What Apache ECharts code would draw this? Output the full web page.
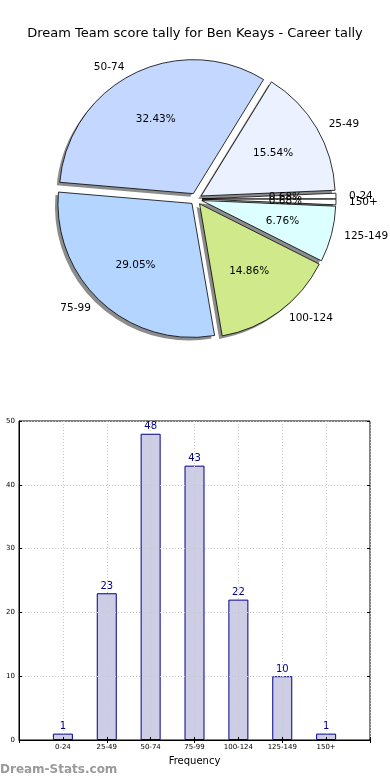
<!DOCTYPE html>
<html>
<head>
<meta charset="utf-8">
<script src="https://cdn.jsdelivr.net/npm/echarts@6/dist/echarts.min.js"></script>
<style>
html,body{margin:0;padding:0;background:#fff;}
#c{width:390px;height:780px;}
</style>
</head>
<body>
<div id="c"></div>
<script>
const categories = ['0-24', '25-49', '50-74', '75-99', '100-124', '125-149', '150+'];
const counts = [1, 23, 48, 43, 22, 10, 1];
const sliceColors = ['#ffffff', '#ebf1ff', '#c4d8ff', '#b4d5ff', '#d0ea8b', '#dcffff', '#ffffff'];
const yTicks = [0, 10, 20, 30, 40, 50];

const FONT = 'DejaVu Sans';
const total = counts.reduce((a, b) => a + b, 0);
const R = 134;
const CENTER = [196, 199];
const SHADOW_CENTER = [CENTER[0] - 3, CENTER[1] + 3];

const pieData = categories.map((c, i) => ({
  name: c, value: counts[i], selected: true,
  itemStyle: { color: sliceColors[i] }
}));
const plainData = categories.map((c, i) => ({ name: c, value: counts[i], selected: true }));

const xCats = [''].concat(categories, ['']);
const barVals = ['-'].concat(counts, ['-']);

const pieCommon = {
  type: 'pie', startAngle: 0, clockwise: false,
  selectedMode: 'multiple', selectedOffset: 6,
  avoidLabelOverlap: false, silent: true,
  labelLayout: { hideOverlap: false },
  emphasis: { disabled: true }
};

const chart = echarts.init(document.getElementById('c'), null, { renderer: 'canvas' });
chart.setOption({
  animation: false,
  backgroundColor: '#ffffff',
  textStyle: { fontFamily: FONT },
  title: [{
    text: 'Dream Team score tally for Ben Keays - Career tally',
    left: 'center', top: 22,
    textStyle: { fontFamily: FONT, fontSize: 13, fontWeight: 'normal', color: '#000' }
  }],
  graphic: [{
    type: 'text', left: 0, top: 764,
    style: { text: 'Dream-Stats.com', fill: '#9a9a9a', font: 'bold 12px "DejaVu Sans"' }
  }],
  grid: { left: 19, right: 20, top: 421, bottom: 40, show: true, borderColor: '#000', borderWidth: 1, containLabel: false },
  xAxis: [{
    type: 'category', data: xCats, boundaryGap: false, z: 3,
    name: 'Frequency', nameLocation: 'middle', nameGap: 16,
    nameTextStyle: { fontFamily: FONT, fontSize: 10, color: '#000' },
    axisLine: { show: true, lineStyle: { color: '#000' } },
    axisTick: { show: true, inside: true, length: 3, lineStyle: { color: '#000' } },
    axisLabel: { interval: 0, fontFamily: FONT, fontSize: 7, color: '#000', margin: 4 },
    splitLine: { show: true, lineStyle: { color: '#c8c8c8', type: [1, 2], width: 1 } }
  }, {
    type: 'category', data: xCats, boundaryGap: false, position: 'top', z: 3,
    axisLine: { show: false },
    axisTick: { show: true, inside: true, length: 3, lineStyle: { color: '#000' } },
    axisLabel: { show: false }, splitLine: { show: false }
  }],
  yAxis: [{
    type: 'value', min: yTicks[0], max: yTicks[yTicks.length - 1], interval: 10, z: 3,
    axisLine: { show: true, lineStyle: { color: '#000' } },
    axisTick: { show: true, inside: true, length: 3, lineStyle: { color: '#000' } },
    axisLabel: { fontFamily: FONT, fontSize: 7, color: '#000', margin: 4 },
    splitLine: { show: true, lineStyle: { color: '#c8c8c8', type: [1, 2], width: 1 } }
  }, {
    type: 'value', min: yTicks[0], max: yTicks[yTicks.length - 1], interval: 10, position: 'right', z: 3,
    axisLine: { show: false },
    axisTick: { show: true, inside: true, length: 3, lineStyle: { color: '#000' } },
    axisLabel: { show: false }, splitLine: { show: false }
  }],
  series: [Object.assign({}, pieCommon, {
    name: 'shadow', center: SHADOW_CENTER, radius: [0, R], z: 1,
    data: plainData,
    itemStyle: { color: '#8c8c8c', borderWidth: 0 },
    label: { show: false }, labelLine: { show: false }
  }), Object.assign({}, pieCommon, {
    name: 'slices', center: CENTER, radius: [0, R], z: 2,
    data: pieData,
    itemStyle: { borderColor: '#000', borderWidth: 0.8 },
    label: { show: true, position: 'outside', fontFamily: FONT, fontSize: 10.5, color: '#000', formatter: '{b}' },
    labelLine: { show: false, length: Math.round(R * 0.1) - 5, length2: 0 }
  }), Object.assign({}, pieCommon, {
    name: 'pct', center: CENTER, radius: [0, R * 1.2], z: 5,
    data: plainData,
    itemStyle: { color: 'rgba(0,0,0,0)', borderWidth: 0 },
    label: {
      show: true, position: 'inside', fontFamily: FONT, fontSize: 10.5, color: '#000',
      formatter: p => (p.value / total * 100).toFixed(2) + '%'
    },
    labelLine: { show: false }
  }), {
    type: 'bar',
    name: 'bars',
    data: barVals,
    barWidth: 20,
    z: 2,
    itemStyle: { color: '#cdcde6', borderColor: '#00008b', borderWidth: 1 },
    label: { show: false },
    emphasis: { disabled: true },
    silent: true
  }, {
    type: 'bar',
    name: 'barLabels',
    data: barVals,
    barWidth: 20,
    barGap: '-100%',
    z: 4,
    itemStyle: { color: 'rgba(0,0,0,0)', borderWidth: 0 },
    label: { show: true, position: 'top', distance: 2, fontFamily: FONT, fontSize: 10, color: '#00008b' },
    emphasis: { disabled: true },
    silent: true
  }]
});
</script>
</body>
</html>
